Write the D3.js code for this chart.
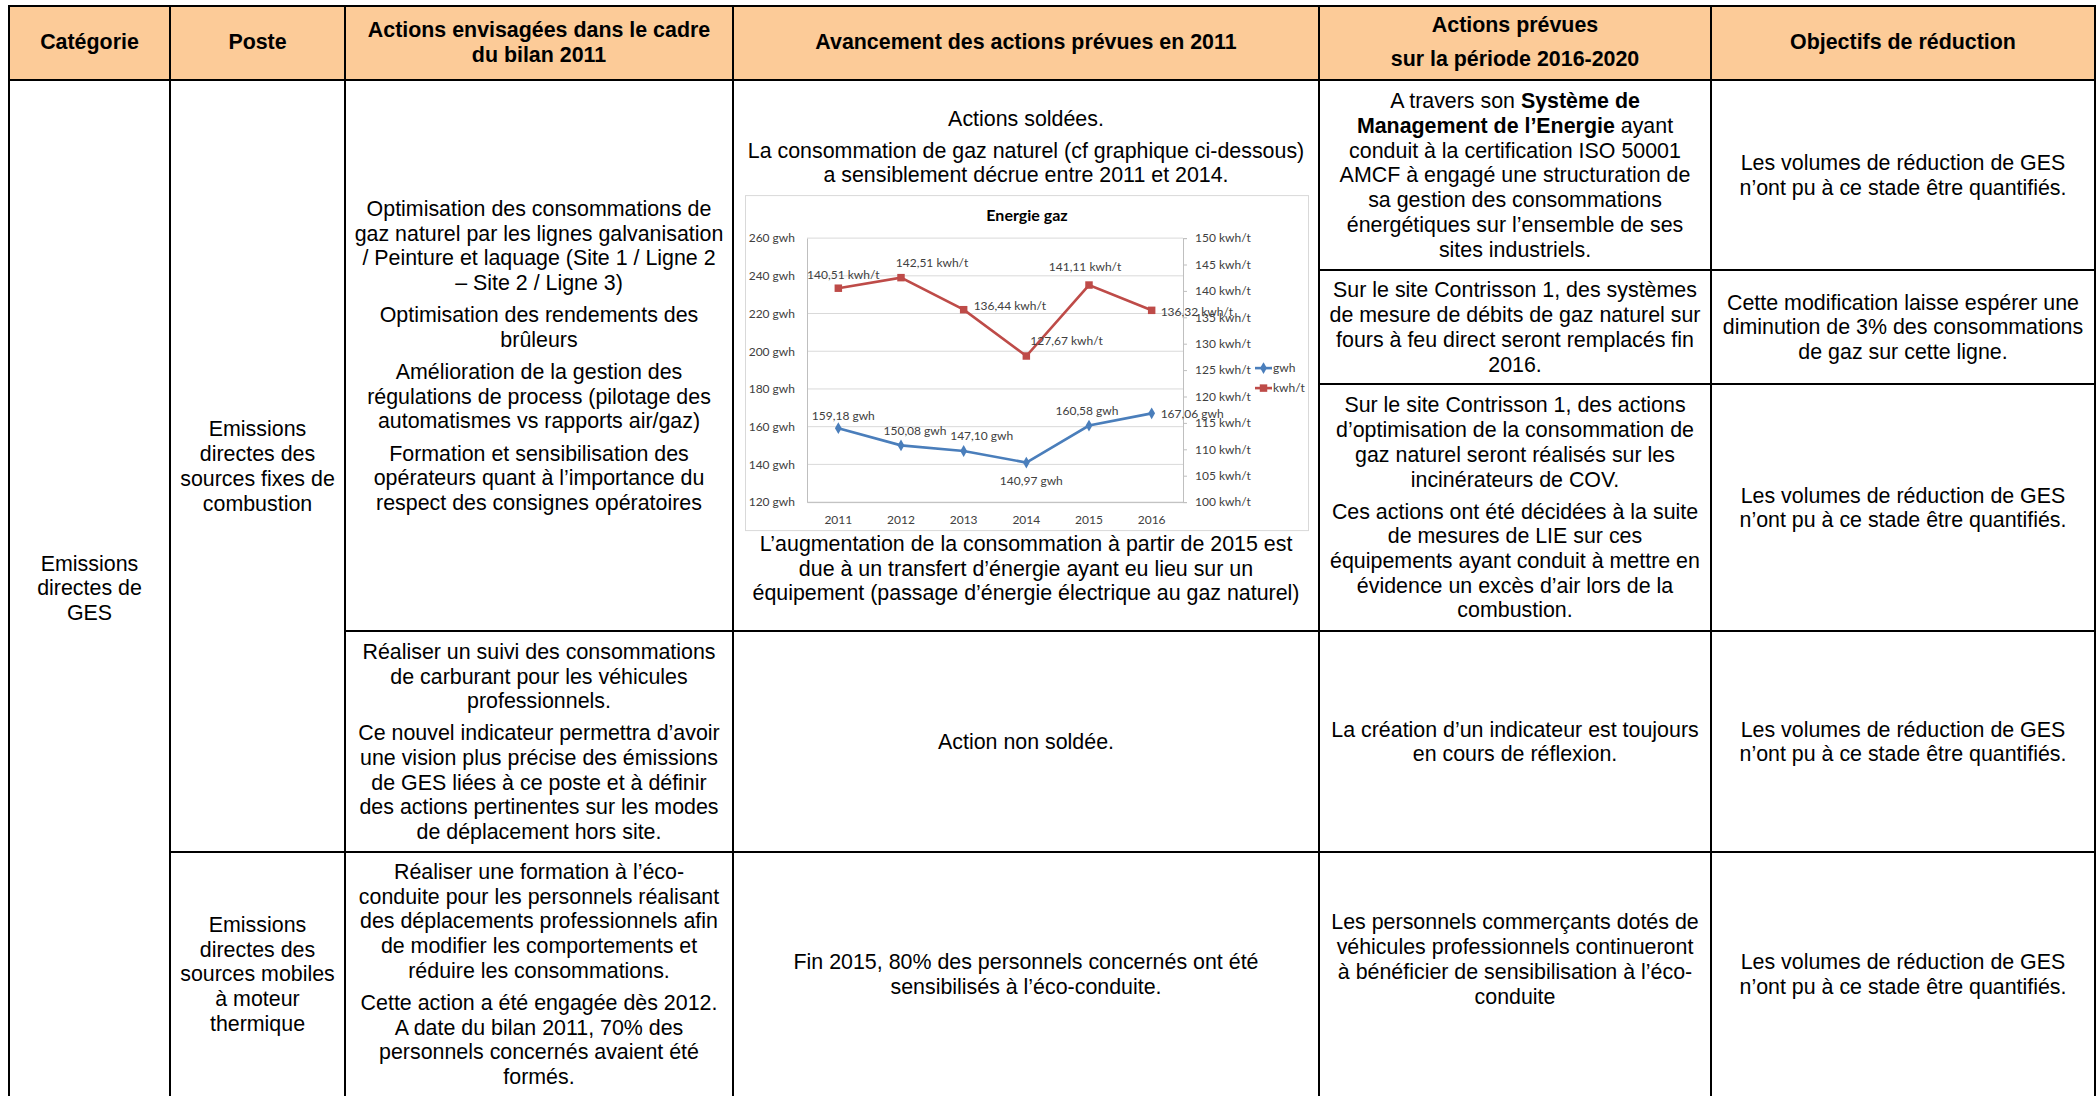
<!DOCTYPE html>
<meta charset="utf-8">
<script src="https://d3js.org/d3.v7.min.js"></script>
<style>
  body { margin: 0; background: #fff; }
  #my_dataviz svg text { font-family: "Liberation Sans", Arial, sans-serif; fill: #000; }
  #my_dataviz .chart text { font-family: Lato, "Open Sans", sans-serif; fill: #404040; }
</style>
<div id="my_dataviz"></div>
<script>

  // ---- chart data (Energie gaz) ----
  var years = ["2011", "2012", "2013", "2014", "2015", "2016"];
  var gwhValues = [159.18, 150.08, 147.10, 140.97, 160.58, 167.06];
  var kwhtValues = [140.51, 142.51, 136.44, 127.67, 141.11, 136.32];
  var gwhTicks = [120, 140, 160, 180, 200, 220, 240, 260];
  var kwhtTicks = [100, 105, 110, 115, 120, 125, 130, 135, 140, 145, 150];

  // where each data label sits around its point: dx, dy, anchor
  var gwhLabelPos = [[5, -12, "middle"], [14, -15, "middle"], [18, -15, "middle"], [5, 18, "middle"], [-2, -15, "middle"], [9, 0, "start"]];
  var kwhtLabelPos = [[5, -13, "middle"], [31, -15, "middle"], [10, -4, "start"], [4, -15, "start"], [-4, -18, "middle"], [9, 1, "start"]];

  // ---- table texts ----
  var headers = [
    [["Catégorie"]],
    [["Poste"]],
    [["Actions envisagées dans le cadre", "du bilan 2011"]],
    [["Avancement des actions prévues en 2011"]],
    [["Actions prévues"], ["sur la période 2016-2020"]],
    [["Objectifs de réduction"]]
  ];
  var categorie = [["Emissions", "directes de", "GES"]];
  var posteFixes = [["Emissions", "directes des", "sources fixes de", "combustion"]];
  var posteMobiles = [["Emissions", "directes des", "sources mobiles", "à moteur", "thermique"]];
  var actionsGaz = [
    ["Optimisation des consommations de", "gaz naturel par les lignes galvanisation", "/ Peinture et laquage (Site 1 / Ligne 2", "– Site 2 / Ligne 3)"],
    ["Optimisation des rendements des", "brûleurs"],
    ["Amélioration de la gestion des", "régulations de process (pilotage des", "automatismes vs rapports air/gaz)"],
    ["Formation et sensibilisation des", "opérateurs quant à l’importance du", "respect des consignes opératoires"]
  ];
  var actionsCarburant = [
    ["Réaliser un suivi des consommations", "de carburant pour les véhicules", "professionnels."],
    ["Ce nouvel indicateur permettra d’avoir", "une vision plus précise des émissions", "de GES liées à ce poste et à définir", "des actions pertinentes sur les modes", "de déplacement hors site."]
  ];
  var actionsEco = [
    ["Réaliser une formation à l’éco-", "conduite pour les personnels réalisant", "des déplacements professionnels afin", "de modifier les comportements et", "réduire les consommations."],
    ["Cette action a été engagée dès 2012.", "A date du bilan 2011, 70% des", "personnels concernés avaient été", "formés."]
  ];
  var avancementGaz = [
    ["Actions soldées."],
    ["La consommation de gaz naturel (cf graphique ci-dessous)", "a  sensiblement décrue entre 2011 et 2014."],
    "CHART",
    ["L’augmentation de la consommation à partir de 2015 est", "due à un transfert d’énergie ayant eu lieu sur un", "équipement (passage d’énergie électrique au gaz naturel)"]
  ];
  var avancementCarburant = [["Action non soldée."]];
  var avancementEco = [["Fin 2015, 80% des personnels concernés ont été", "sensibilisés à l’éco-conduite."]];
  var prevuesSme = [["A travers son **Système de**", "**Management de l’Energie** ayant", "conduit à la certification ISO 50001", "AMCF à engagé une structuration de", "sa gestion des consommations", "énergétiques sur l’ensemble de ses", "sites industriels."]];
  var prevuesDebits = [["Sur le site Contrisson 1, des systèmes", "de mesure de débits de gaz naturel sur", "fours à feu direct seront remplacés fin", "2016."]];
  var prevuesCov = [
    ["Sur le site Contrisson 1, des actions", "d’optimisation de la consommation de", "gaz naturel seront réalisés sur les", "incinérateurs de COV."],
    ["Ces actions ont été décidées à la suite", "de mesures de LIE sur ces", "équipements ayant conduit à mettre en", "évidence un excès d’air lors de la", "combustion."]
  ];
  var prevuesIndicateur = [["La création d’un indicateur est toujours", "en cours de réflexion."]];
  var prevuesEco = [["Les personnels commerçants dotés de", "véhicules professionnels continueront", "à bénéficier de sensibilisation à l’éco-", "conduite"]];
  var objectifNonQuantifie = [["Les volumes de réduction de GES", "n’ont pu à ce stade être quantifiés."]];
  var objectifDebits = [["Cette modification laisse espérer une", "diminution de 3% des consommations", "de gaz sur cette ligne."]];

  // ---- layout ----
  var W = 2098, H = 1096;
  var colX = [9, 170, 345, 733, 1319, 1711, 2095];
  var headTop = 6, headBot = 80;
  var r1 = 631, r2 = 852, sub1 = 270, sub2 = 384, bottom = 1096;
  var fontSize = 21.4, lineH = 24.7, paraGap = 7.4;
  var chartH = 336;

  var svg = d3.select("#my_dataviz")
    .append("svg")
      .attr("width", W)
      .attr("height", H);

  svg.append("rect").attr("width", W).attr("height", H).attr("fill", "#fff");

  var cells = [
    {c: 0, y0: headBot, y1: bottom, paras: categorie},
    {c: 1, y0: headBot, y1: r2, paras: posteFixes},
    {c: 1, y0: r2, y1: bottom, paras: posteMobiles},
    {c: 2, y0: headBot, y1: r1, paras: actionsGaz},
    {c: 2, y0: r1, y1: r2, paras: actionsCarburant},
    {c: 2, y0: r2, y1: bottom, paras: actionsEco},
    {c: 3, y0: headBot, y1: r1, paras: avancementGaz},
    {c: 3, y0: r1, y1: r2, paras: avancementCarburant},
    {c: 3, y0: r2, y1: bottom, paras: avancementEco},
    {c: 4, y0: headBot, y1: sub1, paras: prevuesSme},
    {c: 4, y0: sub1, y1: sub2, paras: prevuesDebits},
    {c: 4, y0: sub2, y1: r1, paras: prevuesCov},
    {c: 4, y0: r1, y1: r2, paras: prevuesIndicateur},
    {c: 4, y0: r2, y1: bottom, paras: prevuesEco, shift: -15},
    {c: 5, y0: headBot, y1: sub1, paras: objectifNonQuantifie},
    {c: 5, y0: sub1, y1: sub2, paras: objectifDebits},
    {c: 5, y0: sub2, y1: r1, paras: objectifNonQuantifie},
    {c: 5, y0: r1, y1: r2, paras: objectifNonQuantifie},
    {c: 5, y0: r2, y1: bottom, paras: objectifNonQuantifie}
  ];

  // header background
  headers.forEach(function(h, i) {
    svg.append("rect")
      .attr("x", colX[i]).attr("y", headTop)
      .attr("width", colX[i + 1] - colX[i]).attr("height", headBot - headTop)
      .attr("fill", "#fccb98");
  });

  // write one line, "**" toggles bold
  function writeLine(g, str, x, y, bold) {
    var t = g.append("text")
      .attr("x", x).attr("y", y).attr("dy", "0.35em")
      .attr("text-anchor", "middle")
      .style("font-size", fontSize + "px");
    str.split("**").forEach(function(part, k) {
      if (part === "") return;
      t.append("tspan")
        .attr("font-weight", (bold || k % 2 === 1) ? "bold" : "normal")
        .text(part);
    });
  }

  function writeCell(paras, x0, x1, y0, y1, opts) {
    opts = opts || {};
    var lh = opts.lineH || lineH, pg = opts.paraGap || paraGap;
    var total = 0;
    paras.forEach(function(p, i) {
      if (p === "CHART") total += chartH + 7.8;
      else total += p.length * lh + (i > 0 && paras[i - 1] !== "CHART" ? pg : 0);
    });
    var y = (y0 + y1) / 2 - total / 2 + (opts.shift || 0);
    var cx = (x0 + x1) / 2;
    paras.forEach(function(p, i) {
      if (p === "CHART") {
        y += 7.8;
        drawChart(cx - 281, y);
        y += chartH;
        return;
      }
      if (i > 0 && paras[i - 1] !== "CHART") y += pg;
      p.forEach(function(line) {
        writeLine(svg, line, cx, y + lh / 2, opts.bold);
        y += lh;
      });
    });
  }

  function drawChart(left, top) {
    var g = svg.append("g").attr("class", "chart")
      .attr("transform", "translate(" + left + "," + top + ")");
    var bw = 564;
    g.append("rect").attr("x", 0.5).attr("y", 0.5)
      .attr("width", bw - 1).attr("height", chartH - 1)
      .attr("fill", "#fff").attr("stroke", "#d9d9d9");

    var pl = 62, pr = 438, pt = 43, pb = 307;
    var x = d3.scaleBand().domain(years).range([pl, pr]);
    var cx = function(d) { return x(d) + x.bandwidth() / 2; };
    var yL = d3.scaleLinear().domain([120, 260]).range([pb, pt]);
    var yR = d3.scaleLinear().domain([100, 150]).range([pb, pt]);
    var fr = d3.formatLocale({decimal: ",", thousands: " ", grouping: [3], currency: ["", ""]}).format(".2f");

    g.append("text").attr("x", 282).attr("y", 20).attr("dy", "0.35em")
      .attr("text-anchor", "middle")
      .style("font-size", "16px").style("font-weight", "bold").style("fill", "#000")
      .text("Energie gaz");

    // gridlines from left axis
    g.selectAll(".grid").data(gwhTicks).enter().append("line")
      .attr("x1", pl).attr("x2", pr)
      .attr("y1", function(d) { return yL(d); }).attr("y2", function(d) { return yL(d); })
      .attr("stroke", "#d9d9d9").attr("stroke-width", 1);

    var left = g.append("g").attr("transform", "translate(" + pl + ",0)")
      .call(d3.axisLeft(yL).tickValues(gwhTicks).tickSize(0).tickPadding(12)
        .tickFormat(function(d) { return d + " gwh"; }));
    var right = g.append("g").attr("transform", "translate(" + pr + ",0)")
      .call(d3.axisRight(yR).tickValues(kwhtTicks).tickSize(4).tickPadding(8)
        .tickFormat(function(d) { return d + " kwh/t"; }));
    var bottomAx = g.append("g").attr("transform", "translate(0," + pb + ")")
      .call(d3.axisBottom(x).tickSize(0).tickPadding(13));
    [left, right, bottomAx].forEach(function(a) {
      a.selectAll("text").style("font-size", "12px").style("font-family", "Lato, sans-serif").style("fill", "#404040");
      a.select(".domain").attr("stroke", "#bfbfbf");
      a.selectAll(".tick line").attr("stroke", "#bfbfbf");
    });

    var lineL = d3.line().x(function(d, i) { return cx(years[i]); }).y(function(d) { return yL(d); });
    var lineR = d3.line().x(function(d, i) { return cx(years[i]); }).y(function(d) { return yR(d); });

    g.append("path").datum(gwhValues).attr("d", lineL)
      .attr("fill", "none").attr("stroke", "#4a7ebb").attr("stroke-width", 2.6);
    g.append("path").datum(kwhtValues).attr("d", lineR)
      .attr("fill", "none").attr("stroke", "#be4b48").attr("stroke-width", 2.6);

    g.selectAll(".mk-gwh").data(gwhValues).enter().append("path")
      .attr("d", d3.symbol(d3.symbolDiamond, 40))
      .attr("transform", function(d, i) { return "translate(" + cx(years[i]) + "," + yL(d) + ")"; })
      .attr("fill", "#4a7ebb");
    g.selectAll(".mk-kwh").data(kwhtValues).enter().append("path")
      .attr("d", d3.symbol(d3.symbolSquare, 56))
      .attr("transform", function(d, i) { return "translate(" + cx(years[i]) + "," + yR(d) + ")"; })
      .attr("fill", "#be4b48");

    g.selectAll(".lb-gwh").data(gwhValues).enter().append("text")
      .attr("x", function(d, i) { return cx(years[i]) + gwhLabelPos[i][0]; })
      .attr("y", function(d, i) { return yL(d) + gwhLabelPos[i][1]; })
      .attr("dy", "0.35em")
      .attr("text-anchor", function(d, i) { return gwhLabelPos[i][2]; })
      .style("font-size", "12px")
      .text(function(d) { return fr(d) + " gwh"; });
    g.selectAll(".lb-kwh").data(kwhtValues).enter().append("text")
      .attr("x", function(d, i) { return cx(years[i]) + kwhtLabelPos[i][0]; })
      .attr("y", function(d, i) { return yR(d) + kwhtLabelPos[i][1]; })
      .attr("dy", "0.35em")
      .attr("text-anchor", function(d, i) { return kwhtLabelPos[i][2]; })
      .style("font-size", "12px")
      .text(function(d) { return fr(d) + " kwh/t"; });

    // legend
    var legend = [["gwh", "#4a7ebb", d3.symbolDiamond, 40], ["kwh/t", "#be4b48", d3.symbolSquare, 56]];
    legend.forEach(function(l, i) {
      var ly = 173 + i * 20;
      g.append("line").attr("x1", 510).attr("x2", 527).attr("y1", ly).attr("y2", ly)
        .attr("stroke", l[1]).attr("stroke-width", 2.6);
      g.append("path").attr("d", d3.symbol(l[2], l[3]))
        .attr("transform", "translate(518.5," + ly + ")").attr("fill", l[1]);
      g.append("text").attr("x", 528).attr("y", ly).attr("dy", "0.35em")
        .style("font-size", "12px").text(l[0]);
    });
  }

  // header texts
  headers.forEach(function(h, i) {
    writeCell(h, colX[i], colX[i + 1], headTop, headBot, {bold: true, lineH: 25.5, paraGap: 8.5, shift: -1});
  });

  // body texts
  cells.forEach(function(c) {
    writeCell(c.paras, colX[c.c], colX[c.c + 1], c.y0, c.y1, {shift: c.shift});
  });

  // borders
  var border = svg.append("g").attr("fill", "none").attr("stroke", "#000").attr("stroke-width", 2);
  headers.forEach(function(h, i) {
    border.append("rect")
      .attr("x", colX[i]).attr("y", headTop)
      .attr("width", colX[i + 1] - colX[i]).attr("height", headBot - headTop);
  });
  cells.forEach(function(c) {
    border.append("rect")
      .attr("x", colX[c.c]).attr("y", c.y0)
      .attr("width", colX[c.c + 1] - colX[c.c])
      .attr("height", (c.y1 === bottom ? bottom + 20 : c.y1) - c.y0);
  });

</script>
